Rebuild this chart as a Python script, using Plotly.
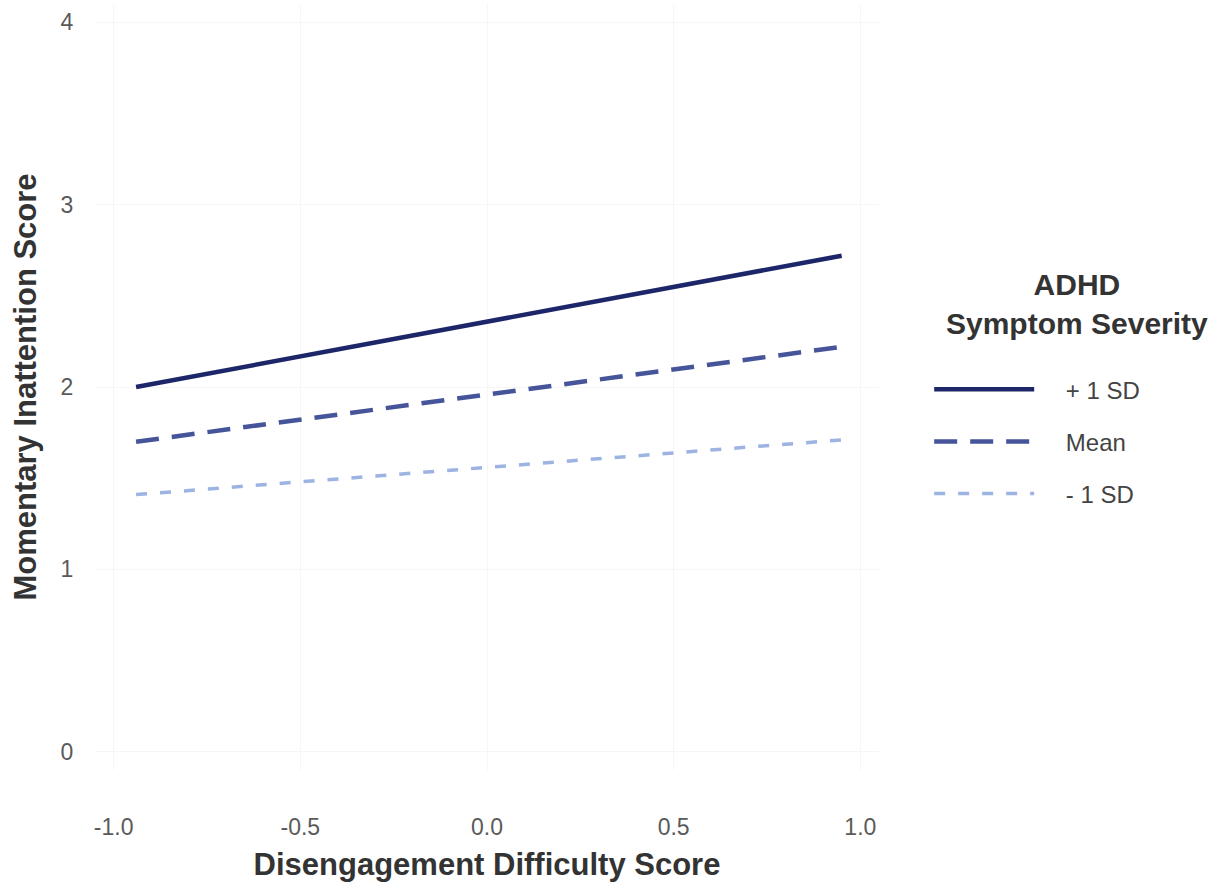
import plotly.graph_objects as go

# Simple-slopes data: predicted inattention at low/high disengagement difficulty
disengagement = [-0.94, 0.95]
series_names = ["+ 1 SD", "Mean", "- 1 SD"]
plus_1sd = [2.00, 2.72]
mean_level = [1.70, 2.22]
minus_1sd = [1.41, 1.71]

x_ticks = [-1.0, -0.5, 0.0, 0.5, 1.0]
y_ticks = [0, 1, 2, 3, 4]

styles = {
    "+ 1 SD": dict(color="#1c2668", width=4.5, dash="solid"),
    "Mean": dict(color="#46549a", width=4.5, dash="23px,13px"),
    "- 1 SD": dict(color="#9db3e2", width=3.5, dash="11px,13px"),
}

pad = "&nbsp;" * 4  # spacing between legend key and its label

fig = go.Figure()
for name, ys in zip(series_names, [plus_1sd, mean_level, minus_1sd]):
    fig.add_trace(go.Scatter(
        x=disengagement, y=ys, mode="lines", name=pad + name,
        legendgroup=name, line=styles[name],
    ))

fig.add_annotation(
    text="<b>ADHD<br>Symptom Severity</b>", xref="paper", yref="paper",
    x=1.252, y=0.608, xanchor="center", yanchor="middle", showarrow=False,
    align="center", font=dict(size=30, color="#333333"),
)

fig.update_layout(
    width=1219, height=884,
    paper_bgcolor="white", plot_bgcolor="white",
    font=dict(family="Liberation Sans, Arial, sans-serif", color="#555555"),
    margin=dict(l=95, r=340, t=4, b=114),
    legend=dict(
        font=dict(size=24, color="#444444"),
        x=1.064, xanchor="left", y=0.526, yanchor="top",
        itemwidth=100, tracegroupgap=18,
        bgcolor="rgba(0,0,0,0)",
    ),
    xaxis=dict(
        range=[-1.05, 1.05], tickvals=x_ticks, ticktext=[f"{v:.1f}" for v in x_ticks],
        showgrid=True, gridcolor="#f6f6f6", zeroline=False, showline=False,
        ticks="outside", ticklen=36, tickcolor="rgba(0,0,0,0)",
        tickfont=dict(size=23, color="#5a5a5a"),
        title=dict(text="<b>Disengagement Difficulty Score</b>",
                   font=dict(size=31, color="#333333"), standoff=14),
    ),
    yaxis=dict(
        range=[-0.1, 4.1], tickvals=y_ticks,
        showgrid=True, gridcolor="#f6f6f6", zeroline=False, showline=False,
        ticks="outside", ticklen=16, tickcolor="rgba(0,0,0,0)",
        tickfont=dict(size=23, color="#5a5a5a"),
        title=dict(text="<b>Momentary Inattention Score</b>",
                   font=dict(size=31, color="#333333"), standoff=14),
    ),
)

fig.write_html("out.html")
